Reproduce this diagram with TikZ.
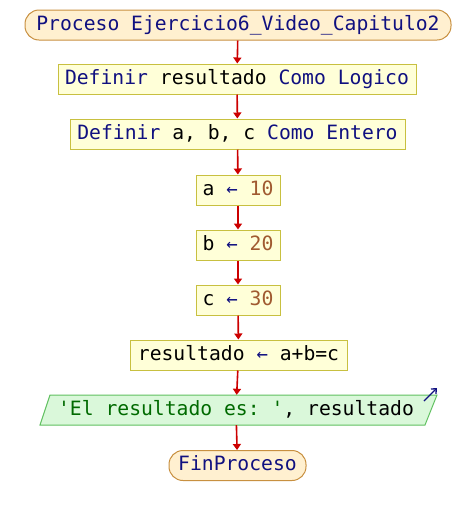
\documentclass[tikz,border=0pt]{standalone}
\usepackage{fontspec}
\setmonofont{DejaVu Sans Mono}
\usetikzlibrary{arrows.meta}
\definecolor{kw}{HTML}{101080}
\definecolor{num}{HTML}{A05A30}
\definecolor{str}{HTML}{006A00}
\definecolor{procfill}{HTML}{FFFFD8}
\definecolor{procline}{HTML}{C8C040}
\definecolor{termfill}{HTML}{FFF0D0}
\definecolor{termline}{HTML}{C89040}
\definecolor{outfill}{HTML}{DAF8DA}
\definecolor{outline}{HTML}{60C060}
\definecolor{flow}{HTML}{CC0000}
\newcommand{\asg}{{\fontsize{19}{19}\selectfont\color{kw}←}}
\begin{document}
\begin{tikzpicture}[x=1pt,y=-1pt,
  every node/.style={font=\ttfamily\fontsize{19.7}{21}\selectfont, inner sep=0pt, text height=15pt, text depth=4.5pt},
  procbox/.style={draw=procline, fill=procfill, line width=1pt, minimum height=30pt},
  termbox/.style={draw=termline, fill=termfill, line width=1pt, minimum height=30pt, rounded corners=14pt},
  outbox/.style={minimum height=30pt},
  flowarrow/.style={draw=flow, line width=1.6pt, -{Triangle[length=6pt,width=8pt]}}]
\useasboundingbox (0,0) rectangle (476,515);
\node[termbox, minimum width=426pt] (p) at (238,25) {\color{kw}Proceso Ejercicio6\_Video\_Capitulo2};
\node[procbox, minimum width=358pt] (d1) at (237,79) {\color{kw}Definir \color{black}resultado \color{kw}Como Logico};
\node[procbox, minimum width=335pt] (d2) at (237.5,134) {\color{kw}Definir \color{black}a, b, c \color{kw}Como Entero};
\node[procbox, minimum width=84pt] (a) at (238,190) {a \asg{} \color{num}10};
\node[procbox, minimum width=84pt] (b) at (238,245) {b \asg{} \color{num}20};
\node[procbox, minimum width=84pt] (c) at (238,300) {c \asg{} \color{num}30};
\node[procbox, minimum width=217pt] (r) at (238.5,355) {resultado \asg{} a+b=c};
\draw[draw=outline, fill=outfill, line width=1pt] (50,395) -- (437,395) -- (425,425) -- (40,425) -- cycle;
\node[outbox] (o) at (236,410) {\color{str}'El resultado es: '\color{black}, resultado};
\coordinate (ia) at (424,401);
\coordinate (ib) at (437,388);
\draw[draw=kw, line width=1.3pt, -{Straight Barb[length=4pt,width=7pt]}] (ia) -- (ib);
\node[termbox, minimum width=137pt] (f) at (237.5,465.5) {\color{kw}FinProceso};
\draw[flowarrow] (p) -- (d1);
\draw[flowarrow] (d1) -- (d2);
\draw[flowarrow] (d2) -- (a);
\draw[flowarrow] (a) -- (b);
\draw[flowarrow] (b) -- (c);
\draw[flowarrow] (c) -- (r);
\draw[flowarrow] (r) -- (o);
\draw[flowarrow] (o) -- (f);
\end{tikzpicture}
\end{document}
